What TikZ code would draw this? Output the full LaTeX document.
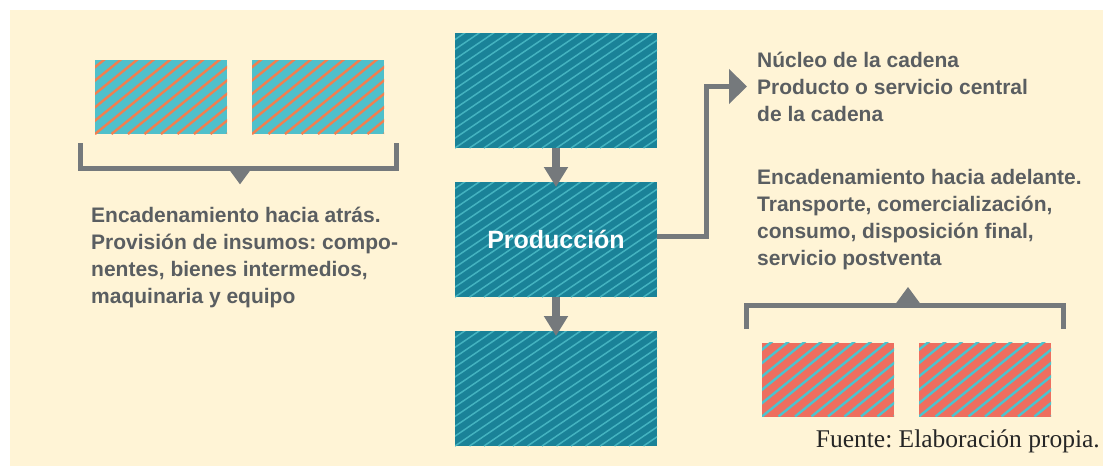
\documentclass[tikz,border=0pt]{standalone}
\usepackage{fontspec}
\setmainfont{Liberation Serif}
\setsansfont{Liberation Sans}
\usetikzlibrary{arrows.meta}
\frenchspacing
\definecolor{cream}{HTML}{FFF4D6}
\definecolor{cyanbox}{HTML}{4FC0CB}
\definecolor{orangeS}{HTML}{F07F50}
\definecolor{tealbox}{HTML}{1A8298}
\definecolor{tealS}{HTML}{44B3C0}
\definecolor{redbox}{HTML}{EE6E5F}
\definecolor{cyanS}{HTML}{4CC3CE}
\definecolor{greyC}{HTML}{75797C}
\definecolor{textgrey}{HTML}{5A5E61}
\tikzset{
  hatch/.style n args={5}{fill=#1, draw=none, inner sep=0pt, outer sep=0pt,
    path picture={\foreach \k in {-24,...,26}{\draw[#2, line width=#4pt]
      (path picture bounding box.south west) ++(\k*#3,0) -- ++(300,-#5);}}},
  smallbox/.style={minimum width=132pt, minimum height=74pt},
  bigbox/.style={minimum width=202pt, minimum height=115pt},
  conn/.style={draw=greyC, line join=miter},
  bracket/.style={draw=greyC, line width=5pt, line join=miter},
  txt/.style={text=textgrey, inner sep=0pt, anchor=base west,
    font=\sffamily\bfseries\fontsize{21}{27}\selectfont},
}
\begin{document}
\begin{tikzpicture}[x=1pt,y=-1pt]
\useasboundingbox (0,0) rectangle (1103,466);
\fill[cream] (10,10) rectangle (1103,466);
% left input boxes
\node[hatch={cyanbox}{orangeS}{16.5}{2.4}{243}, smallbox] (L1) at (161,97) {};
\node[hatch={cyanbox}{orangeS}{16.5}{2.4}{243}, smallbox] (L2) at (318,97) {};
% central chain
\node[hatch={tealbox}{tealS}{14.5}{1.5}{204}, bigbox] (C1) at (556,90.5) {};
\node[hatch={tealbox}{tealS}{14.5}{1.5}{204}, bigbox, text=white,
  font=\sffamily\bfseries\fontsize{25}{30}\selectfont] (C2) at (556,239.5) {Producción};
\node[hatch={tealbox}{tealS}{14.5}{1.5}{204}, bigbox] (C3) at (556,388.5) {};
% right output boxes
\node[hatch={redbox}{cyanS}{16.5}{2.4}{243}, smallbox] (R1) at (828,379.5) {};
\node[hatch={redbox}{cyanS}{16.5}{2.4}{243}, smallbox] (R2) at (985,379.5) {};
% vertical arrows
\draw[conn, line width=8pt, shorten >=-5pt, -{Triangle[width=23pt,length=20pt]}] (C1.south) -- (C2.north);
\draw[conn, line width=8pt, shorten >=-5pt, -{Triangle[width=23pt,length=20pt]}] (C2.south) -- (C3.north);
% connector to the core text
\coordinate (Cout) at ([yshift=3.5pt]C2.east);
\coordinate (turn) at (706.5,86.5);
\coordinate (tipR) at (747,86.5);
\draw[conn, line width=5pt, -{Triangle[width=34pt,length=18pt]}] (Cout) -| (turn) -- (tipR);
% left bracket
\coordinate (lb1) at (80.5,143);
\coordinate (lb2) at (396.5,143);
\draw[bracket] (lb1) -- (80.5,168.3) -- (396.5,168.3) -- (lb2);
\fill[greyC] (228,168) -- (252,168) -- (240,184.3) -- cycle;
% right bracket
\coordinate (rb1) at (746.5,329);
\coordinate (rb2) at (1063.5,329);
\draw[bracket] (rb1) -- (746.5,305.5) -- (1063.5,305.5) -- (rb2);
\fill[greyC] (894,306) -- (922,306) -- (908,287) -- cycle;
% texts
\node[txt] (Tleft) at (91,222) {\begin{tabular}[t]{@{}l@{}}Encadenamiento hacia atrás.\\Provisión de insumos: compo-\\nentes, bienes intermedios,\\maquinaria y equipo\end{tabular}};
\node[txt] (Tcore) at (757,67) {\begin{tabular}[t]{@{}l@{}}Núcleo de la cadena\\Producto o servicio central\\de la cadena\end{tabular}};
\node[txt] (Tright) at (757,184) {\begin{tabular}[t]{@{}l@{}}Encadenamiento hacia adelante.\\Transporte, comercialización,\\consumo, disposición final,\\servicio postventa\end{tabular}};
\node[anchor=base east, inner sep=0pt, text=black!85, font=\fontsize{25.5}{30}\selectfont] (src) at (1100,447) {Fuente: Elaboración propia.};
\end{tikzpicture}
\end{document}
